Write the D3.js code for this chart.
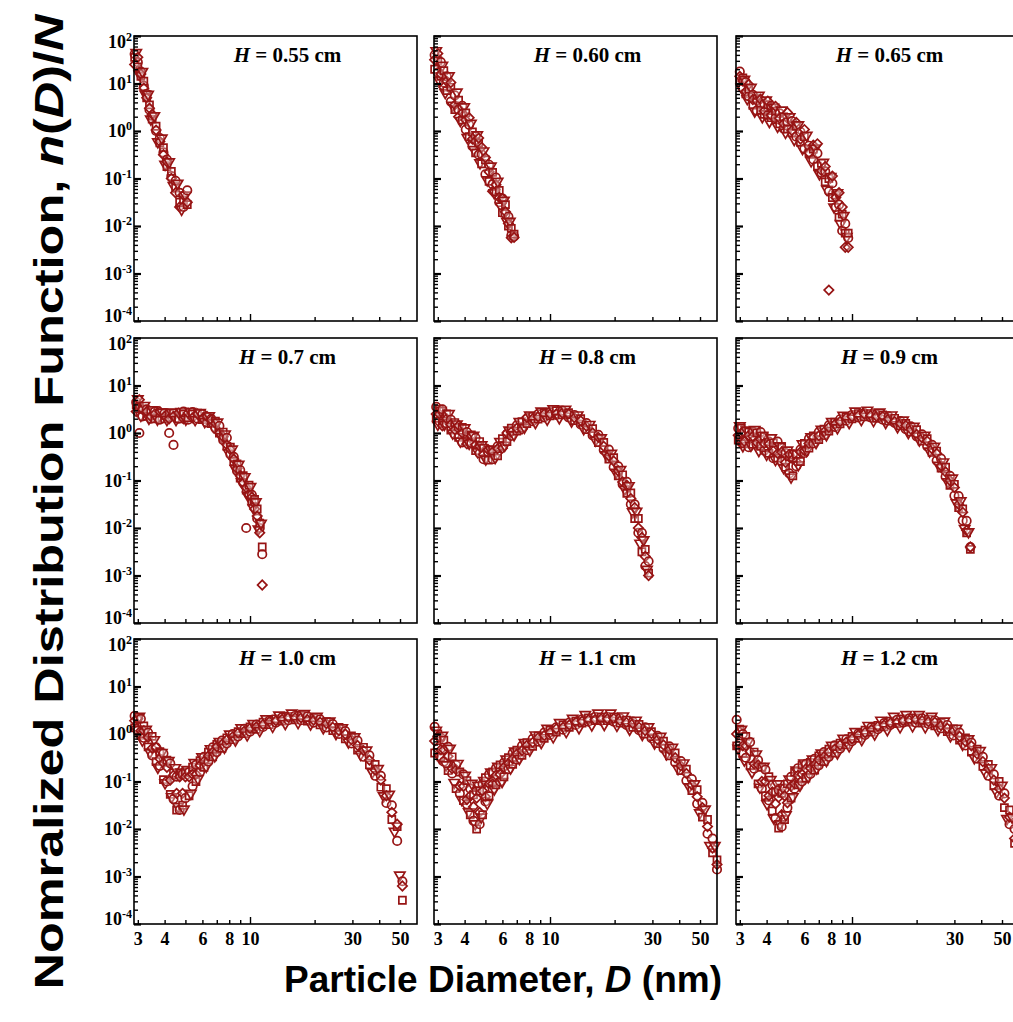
<!DOCTYPE html>
<html>
<head>
<meta charset="utf-8">
<script src="https://cdn.jsdelivr.net/npm/d3@7"></script>
<style>
  body { margin: 0; background: #fff; overflow: hidden; }
  svg { display: block; }
  .tk text { font-family: "Liberation Serif", "Times New Roman", serif; font-weight: bold; font-size: 18px; fill: #000; }
  .tk line { stroke: #000; }
</style>
</head>
<body>
<script>
// panel titles (H in cm)
const H_VALUES = ["0.55", "0.60", "0.65", "0.7", "0.8", "0.9", "1.0", "1.1", "1.2"];

// x tick values / labels (nm)
const X_TICKS = [3, 4, 5, 6, 7, 8, 9, 10, 20, 30, 40, 50];
const X_LABELS = [3, 4, 6, 8, 10, 30, 50];
const Y_EXPONENTS = [-4, -3, -2, -1, 0, 1, 2];

// each panel: diameters D (nm) and log10 n(D)/N of the runs
// runs A,B,C share D_xx; run E has its own diameters E_D_xx
const D_055 = [2.9,3.0,3.1,3.2,3.3,3.4,3.5,3.65,3.8,3.95,4.1,4.3,4.5,4.7,4.9,5.1];
const A_055 = [1.62,1.45,1.25,0.95,0.78,0.45,0.32,0.0,-0.15,-0.45,-0.6,-0.95,-1.05,-1.3,-1.6,-1.25];
const B_055 = [1.55,1.35,1.15,1.05,0.7,0.55,0.25,0.1,-0.25,-0.35,-0.75,-0.85,-1.2,-1.5,-1.45,-1.55];
const C_055 = [1.4,1.55,1.2,0.9,0.7,0.48,0.35,0.02,-0.22,-0.5,-0.65,-1.0,-1.3,-1.6,-1.35,-1.5];
const E_D_055 = [2.95,3.05,3.15,3.25,3.35,3.45,3.58,3.72,3.88,4.02,4.2,4.4,4.6,4.8,5.0];
const E_055 = [1.65,1.20,1.25,0.78,0.77,0.25,0.32,-0.23,-0.15,-0.70,-0.65,-1.15,-1.10,-1.65,-1.35];

const D_060 = [2.9,3.0,3.1,3.2,3.3,3.45,3.6,3.75,3.9,4.05,4.2,4.35,4.5,4.65,4.8,5.0,5.2,5.4,5.6,5.8,6.0,6.2,6.4,6.6,6.8];
const A_060 = [1.60,1.23,1.45,1.02,1.15,0.62,0.75,0.45,0.53,0.03,0.13,-0.32,-0.11,-0.50,-0.49,-0.91,-0.71,-1.12,-0.98,-1.50,-1.42,-1.75,-1.80,-2.20,-2.22];
const B_060 = [1.30,1.48,1.15,1.27,0.85,0.92,0.45,0.65,0.23,0.38,-0.12,-0.02,-0.46,-0.25,-0.69,-0.61,-1.06,-0.87,-1.28,-1.25,-1.72,-1.55,-2.0,-2.05,-2.17];
const C_060 = [1.50,1.63,1.20,0.92,1.05,1.02,0.55,0.30,0.38,0.23,0.28,-0.17,-0.21,-0.15,-0.34,-0.56,-0.86,-1.27,-1.13,-1.40,-1.42,-1.70,-1.95,-2.25,-2.24];
const E_D_060 = [2.95,3.05,3.15,3.25,3.38,3.52,3.68,3.82,3.98,4.12,4.28,4.42,4.58,4.72,4.9,5.1,5.3,5.5,5.7,5.9,6.1,6.3,6.5];
const E_060 = [1.69,1.06,1.38,0.81,1.16,0.54,0.82,0.22,0.51,-0.14,0.16,-0.39,-0.08,-0.67,-0.42,-1.03,-0.74,-1.30,-1.06,-1.58,-1.46,-1.90,-1.90];

const D_065 = [3.0,3.1,3.2,3.3,3.45,3.6,3.75,3.9,4.05,4.2,4.4,4.6,4.8,5.0,5.25,5.5,5.75,6.0,6.3,6.6,6.9,7.2,7.5,7.8,8.1,8.4,8.7,9.0,9.3,9.6];
const A_065 = [1.25,0.90,1.03,0.73,0.76,0.43,0.57,0.57,0.33,0.53,0.27,0.37,0.05,0.19,0.21,-0.12,-0.02,-0.37,-0.31,-0.60,-0.47,-0.88,-0.85,-1.27,-1.10,-1.60,-1.55,-2.10,-1.95,-2.25];
const B_065 = [1.05,1.12,0.78,0.88,0.54,0.68,0.44,0.35,0.55,0.28,0.42,0.15,0.30,0.04,-0.04,0.10,-0.24,-0.12,-0.46,-0.38,-0.74,-0.68,-1.07,-1.00,-1.40,-1.35,-1.82,-1.75,-2.15,-2.15];
const C_065 = [1.15,1.05,0.83,0.98,0.66,0.63,0.67,0.42,0.63,0.33,0.52,0.27,0.15,0.39,0.01,0.18,-0.17,0.03,-0.46,-0.30,-0.27,-0.83,-0.75,-3.35,-0.95,-1.40,-1.30,-1.60,-2.45,-2.45];
const E_D_065 = [3.05,3.15,3.25,3.38,3.52,3.68,3.82,3.98,4.12,4.3,4.5,4.7,4.9,5.12,5.38,5.62,5.88,6.15,6.45,6.75,7.05,7.35,7.65,7.95,8.25,8.55,8.85,9.15,9.45];
const E_065 = [0.92,1.09,0.68,0.92,0.42,0.75,0.30,0.65,0.20,0.50,0.10,0.44,-0.03,0.30,-0.18,0.13,-0.37,-0.09,-0.63,-0.36,-0.90,-0.66,-1.23,-0.96,-1.60,-1.30,-1.95,-1.78,-2.22];

const D_07 = [2.95,3.05,3.15,3.3,3.45,3.6,3.8,4.0,4.2,4.4,4.65,4.9,5.15,5.4,5.7,6.0,6.3,6.6,6.9,7.2,7.5,7.8,8.1,8.4,8.7,9.0,9.3,9.6,9.9,10.2,10.5,10.8,11.1,11.4];
const A_07 = [0.65,0.0,0.35,0.5,0.3,0.45,0.28,0.42,0.0,-0.25,0.3,0.45,0.28,0.44,0.3,0.4,0.22,0.3,0.1,0.15,-0.15,-0.1,-0.45,-0.5,-0.8,-0.78,-1.05,-2.0,-1.3,-1.3,-1.45,-1.8,-2.0,-2.55];
const B_07 = [0.6,0.55,0.5,0.35,0.45,0.3,0.42,0.3,0.4,0.42,0.3,0.4,0.32,0.4,0.42,0.28,0.35,0.2,0.25,0.0,0.02,-0.28,-0.3,-0.6,-0.65,-0.95,-0.9,-1.2,-1.1,-1.45,-1.4,-1.6,-1.9,-2.4];
const C_07 = [0.45,0.7,0.5,0.45,0.35,0.4,0.45,0.35,0.3,0.35,0.42,0.3,0.42,0.32,0.4,0.3,0.35,0.28,0.2,0.0,-0.08,-0.25,-0.35,-0.55,-0.75,-0.9,-1.05,-1.15,-1.3,-1.35,-1.6,-1.75,-2.1,-3.2];
const E_D_07 = [3.0,3.1,3.22,3.38,3.52,3.7,3.9,4.1,4.3,4.52,4.78,5.02,5.28,5.55,5.85,6.15,6.45,6.75,7.05,7.35,7.65,7.95,8.25,8.55,8.85,9.15,9.45,9.75,10.05,10.35,10.65,10.95,11.25];
const E_07 = [0.72,0.37,0.58,0.31,0.49,0.29,0.44,0.28,0.44,0.28,0.45,0.29,0.45,0.28,0.43,0.24,0.36,0.14,0.23,-0.08,-0.02,-0.41,-0.34,-0.75,-0.66,-1.03,-0.92,-1.31,-1.13,-1.57,-1.45,-2.02,-1.90];

const D_08 = [2.95,3.05,3.15,3.3,3.45,3.6,3.75,3.9,4.1,4.3,4.5,4.7,4.9,5.15,5.4,5.7,6.0,6.3,6.6,7.0,7.4,7.8,8.3,8.8,9.4,10.0,10.7,11.4,12.2,13.0,13.9,14.8,15.8,16.8,17.8,18.8,19.8,20.8,21.8,22.8,23.8,24.8,25.8,26.8,27.8,28.8];
const A_08 = [0.55,0.25,0.50,0.20,0.28,-0.03,0.11,-0.20,0.02,-0.21,-0.10,-0.43,-0.55,-0.40,-0.55,-0.28,-0.27,-0.02,-0.06,0.16,0.12,0.30,0.25,0.40,0.33,0.44,0.38,0.47,0.33,0.38,0.18,0.21,-0.05,-0.04,-0.36,-0.35,-0.72,-0.70,-1.08,-1.03,-1.50,-1.50,-2.10,-2.10,-2.80,-2.70];
const B_08 = [0.30,0.50,0.20,0.40,0.06,0.22,-0.09,0.12,-0.18,-0.04,-0.37,-0.18,-0.32,-0.57,-0.35,-0.48,-0.12,-0.18,0.10,0.04,0.24,0.20,0.35,0.29,0.43,0.36,0.47,0.38,0.43,0.26,0.30,0.07,0.09,-0.20,-0.20,-0.55,-0.52,-0.90,-0.88,-1.27,-1.26,-1.80,-1.80,-2.50,-2.45,-2.95];
const C_08 = [0.40,0.40,0.15,0.30,0.18,0.07,0.16,0.00,-0.23,-0.06,-0.25,-0.28,-0.45,-0.35,-0.40,-0.33,-0.32,0.00,0.02,0.10,0.08,0.33,0.30,0.34,0.40,0.40,0.40,0.42,0.40,0.32,0.26,0.14,0.00,-0.09,-0.28,-0.48,-0.59,-0.80,-1.03,-1.10,-1.38,-1.57,-2.00,-2.20,-2.60,-3.00];
const E_D_08 = [3.0,3.1,3.22,3.38,3.52,3.68,3.82,4.0,4.2,4.4,4.6,4.8,5.02,5.28,5.55,5.85,6.15,6.45,6.8,7.2,7.6,8.05,8.55,9.1,9.7,10.35,11.05,11.8,12.6,13.45,14.35,15.3,16.3,17.3,18.3,19.3,20.3,21.3,22.3,23.3,24.3,25.3,26.3,27.3,28.3];
const E_08 = [0.18,0.47,0.18,0.41,0.00,0.19,-0.17,0.11,-0.22,-0.05,-0.39,-0.25,-0.55,-0.35,-0.52,-0.18,-0.26,0.06,-0.04,0.24,0.12,0.38,0.22,0.46,0.29,0.51,0.32,0.50,0.25,0.38,0.09,0.18,-0.15,-0.10,-0.46,-0.43,-0.83,-0.77,-1.18,-1.11,-1.66,-1.65,-2.32,-2.25,-2.87];

const D_09 = [2.95,3.05,3.15,3.3,3.45,3.6,3.75,3.9,4.1,4.3,4.5,4.7,4.9,5.1,5.3,5.5,5.75,6.0,6.3,6.6,7.0,7.4,7.8,8.3,8.8,9.4,10.0,10.7,11.4,12.2,13.0,13.9,14.8,15.8,16.8,17.8,18.8,20.0,21.2,22.4,23.6,24.8,26.0,27.3,28.6,30.0,31.4,32.8,34.2,35.6];
const A_09 = [0.10,-0.20,0.02,-0.30,0.03,-0.25,0.02,-0.37,-0.18,-0.53,-0.18,-0.60,-0.42,-0.85,-0.45,-0.70,-0.35,-0.42,-0.12,-0.22,0.02,-0.04,0.16,0.13,0.29,0.26,0.38,0.33,0.42,0.33,0.39,0.28,0.35,0.21,0.25,0.08,0.14,-0.07,-0.03,-0.28,-0.25,-0.58,-0.54,-0.92,-0.90,-1.32,-1.33,-1.84,-1.85,-2.40];
const B_09 = [-0.15,0.10,-0.23,0.02,-0.24,0.00,-0.28,-0.07,-0.43,-0.21,-0.53,-0.30,-0.72,-0.50,-0.90,-0.45,-0.60,-0.22,-0.32,-0.06,-0.14,0.08,0.04,0.23,0.19,0.34,0.30,0.41,0.34,0.41,0.31,0.38,0.25,0.31,0.15,0.20,0.02,0.07,-0.17,-0.12,-0.41,-0.38,-0.74,-0.72,-1.10,-1.08,-1.57,-1.60,-2.10,-2.45];
const C_09 = [-0.05,0.00,-0.18,-0.05,-0.07,-0.20,-0.13,-0.22,-0.23,-0.38,-0.43,-0.40,-0.62,-0.45,-0.55,-0.60,-0.40,-0.37,-0.22,-0.09,-0.06,0.02,0.12,0.18,0.24,0.32,0.34,0.37,0.40,0.37,0.35,0.35,0.30,0.24,0.20,0.16,0.08,-0.03,-0.10,-0.17,-0.33,-0.43,-0.69,-0.82,-1.00,-1.15,-1.50,-1.67,-2.05,-2.40];
const E_D_09 = [3.0,3.1,3.22,3.38,3.52,3.68,3.82,4.0,4.2,4.4,4.6,4.8,5.0,5.2,5.4,5.62,5.88,6.15,6.45,6.8,7.2,7.6,8.05,8.55,9.1,9.7,10.35,11.05,11.8,12.6,13.45,14.35,15.3,16.3,17.3,18.3,19.4,20.6,21.8,23.0,24.2,25.4,26.65,27.95,29.3,30.7,32.1,33.5,34.9];
const E_09 = [0.15,-0.27,0.06,-0.26,0.07,-0.37,-0.05,-0.45,-0.10,-0.56,-0.27,-0.73,-0.36,-0.93,-0.43,-0.67,-0.23,-0.37,-0.08,-0.20,0.08,-0.04,0.24,0.11,0.37,0.22,0.46,0.28,0.48,0.26,0.44,0.22,0.38,0.13,0.27,0.01,0.14,-0.15,-0.05,-0.38,-0.28,-0.68,-0.61,-1.03,-0.95,-1.47,-1.43,-2.01,-2.08];

const D_10 = [2.9,3.0,3.1,3.2,3.35,3.5,3.65,3.8,3.95,4.1,4.25,4.4,4.55,4.7,4.85,5.0,5.2,5.4,5.6,5.85,6.1,6.4,6.7,7.0,7.4,7.8,8.3,8.8,9.4,10.0,10.7,11.5,12.3,13.2,14.1,15.1,16.2,17.3,18.5,19.8,21.2,22.7,24.3,26.0,27.8,29.7,31.7,33.8,36.0,38.3,40.7,43.2,45.8,48.5,51.3];
const A_10 = [0.38,0.07,0.32,-0.08,0.03,-0.45,-0.28,-0.67,-0.41,-1.00,-0.62,-1.37,-0.90,-1.60,-0.85,-1.35,-0.80,-1.10,-0.65,-0.80,-0.48,-0.58,-0.28,-0.38,-0.14,-0.20,0.00,-0.05,0.11,0.05,0.20,0.15,0.28,0.24,0.35,0.29,0.38,0.29,0.37,0.24,0.31,0.14,0.21,0.00,0.06,-0.20,-0.14,-0.48,-0.45,-0.88,-0.88,-1.45,-1.50,-2.25,-3.10];
const B_10 = [0.13,0.32,-0.03,0.17,-0.27,-0.05,-0.58,-0.37,-0.96,-0.55,-1.27,-0.82,-1.60,-0.85,-1.50,-0.80,-1.30,-0.70,-1.00,-0.56,-0.70,-0.38,-0.48,-0.22,-0.30,-0.08,-0.12,0.05,0.01,0.15,0.10,0.25,0.20,0.32,0.27,0.37,0.30,0.39,0.27,0.34,0.19,0.26,0.07,0.14,-0.10,-0.04,-0.34,-0.28,-0.65,-0.64,-1.12,-1.15,-1.80,-1.95,-3.50];
const C_10 = [0.28,0.32,0.07,0.07,-0.07,-0.30,-0.28,-0.52,-0.61,-0.70,-0.97,-0.87,-1.25,-0.90,-1.25,-0.90,-0.90,-0.85,-0.85,-0.66,-0.58,-0.46,-0.38,-0.27,-0.22,-0.12,-0.06,0.02,0.06,0.12,0.15,0.20,0.26,0.28,0.31,0.35,0.34,0.34,0.30,0.29,0.25,0.22,0.14,0.07,0.00,-0.12,-0.24,-0.35,-0.55,-0.76,-0.97,-1.30,-1.65,-1.90,-3.20];
const E_D_10 = [2.95,3.05,3.15,3.28,3.42,3.58,3.72,3.88,4.02,4.18,4.32,4.48,4.62,4.78,4.92,5.1,5.3,5.5,5.72,5.98,6.25,6.55,6.85,7.2,7.6,8.05,8.55,9.1,9.7,10.35,11.1,11.9,12.75,13.65,14.6,15.65,16.75,17.9,19.15,20.5,21.95,23.5,25.15,26.9,28.75,30.7,32.75,34.9,37.15,39.5,41.95,44.5,47.15,49.9];
const E_10 = [0.10,0.37,-0.13,0.10,-0.38,-0.12,-0.70,-0.39,-1.03,-0.56,-1.32,-0.71,-1.53,-0.80,-1.58,-0.75,-1.25,-0.60,-0.94,-0.48,-0.68,-0.31,-0.46,-0.16,-0.28,0.00,-0.13,0.13,-0.02,0.22,0.07,0.32,0.16,0.40,0.22,0.44,0.24,0.43,0.21,0.37,0.13,0.27,0.01,0.13,-0.17,-0.06,-0.43,-0.34,-0.80,-0.73,-1.30,-1.27,-2.05,-2.97];

const D_11 = [2.9,3.0,3.1,3.2,3.35,3.5,3.65,3.8,3.95,4.1,4.25,4.4,4.55,4.7,4.85,5.0,5.2,5.4,5.6,5.85,6.1,6.4,6.7,7.0,7.4,7.8,8.3,8.8,9.4,10.0,10.7,11.5,12.3,13.2,14.1,15.1,16.2,17.3,18.5,19.8,21.2,22.7,24.3,26.0,27.8,29.7,31.7,33.8,36.0,38.3,40.7,43.2,45.8,48.5,51.3,54.2,57.2,60.0];
const A_11 = [0.15,-0.30,-0.08,-0.58,-0.27,-0.83,-0.65,-1.25,-0.85,-1.48,-1.15,-1.83,-1.20,-1.90,-1.05,-1.42,-0.85,-1.15,-0.72,-1.00,-0.60,-0.74,-0.40,-0.54,-0.25,-0.34,-0.10,-0.16,0.03,-0.02,0.14,0.09,0.24,0.19,0.31,0.26,0.36,0.28,0.36,0.26,0.33,0.19,0.26,0.08,0.14,-0.09,-0.04,-0.31,-0.26,-0.60,-0.57,-0.98,-0.95,-1.47,-1.45,-2.10,-2.20,-2.85];
const B_11 = [-0.40,0.00,-0.48,-0.13,-0.77,-0.48,-1.15,-0.80,-1.40,-0.98,-1.70,-1.28,-2.00,-1.20,-1.70,-0.92,-1.30,-0.80,-1.07,-0.65,-0.90,-0.50,-0.64,-0.34,-0.45,-0.18,-0.26,-0.04,-0.09,0.08,0.04,0.19,0.14,0.27,0.23,0.34,0.28,0.36,0.28,0.36,0.23,0.29,0.14,0.20,0.00,0.05,-0.20,-0.15,-0.46,-0.40,-0.77,-0.74,-1.19,-1.17,-1.75,-1.80,-2.50,-2.65];
const C_11 = [-0.15,-0.05,-0.33,-0.33,-0.47,-0.73,-0.75,-1.10,-1.10,-1.38,-1.30,-1.53,-1.35,-1.65,-1.20,-1.32,-1.05,-1.05,-0.87,-0.85,-0.70,-0.62,-0.52,-0.42,-0.35,-0.24,-0.18,-0.08,-0.03,0.03,0.11,0.14,0.19,0.25,0.27,0.30,0.30,0.32,0.32,0.33,0.28,0.24,0.22,0.14,0.07,0.01,-0.12,-0.23,-0.33,-0.50,-0.67,-0.83,-1.07,-1.32,-1.55,-1.95,-2.40,-2.75];
const E_D_11 = [2.95,3.05,3.15,3.28,3.42,3.58,3.72,3.88,4.02,4.18,4.32,4.48,4.62,4.78,4.92,5.1,5.3,5.5,5.72,5.98,6.25,6.55,6.85,7.2,7.6,8.05,8.55,9.1,9.7,10.35,11.1,11.9,12.75,13.65,14.6,15.65,16.75,17.9,19.15,20.5,21.95,23.5,25.15,26.9,28.75,30.7,32.75,34.9,37.15,39.5,41.95,44.5,47.15,49.9,52.75,55.7,58.6];
const E_11 = [0.08,-0.49,-0.03,-0.65,-0.30,-1.02,-0.62,-1.38,-0.87,-1.64,-1.04,-1.89,-1.08,-1.75,-0.98,-1.46,-0.80,-1.16,-0.68,-1.00,-0.53,-0.72,-0.36,-0.52,-0.18,-0.34,-0.02,-0.18,0.12,-0.06,0.24,0.05,0.33,0.13,0.41,0.19,0.44,0.20,0.44,0.18,0.38,0.10,0.29,-0.01,0.15,-0.19,-0.05,-0.42,-0.28,-0.73,-0.61,-1.11,-1.05,-1.66,-1.58,-2.35,-2.35];

const D_12 = [2.9,3.0,3.1,3.2,3.35,3.5,3.65,3.8,3.95,4.1,4.25,4.4,4.55,4.7,4.85,5.0,5.2,5.4,5.6,5.85,6.1,6.4,6.7,7.0,7.4,7.8,8.3,8.8,9.4,10.0,10.7,11.5,12.3,13.2,14.1,15.1,16.2,17.3,18.5,19.8,21.2,22.7,24.3,26.0,27.8,29.7,31.7,33.8,36.0,38.3,40.7,43.2,45.8,48.5,51.3,54.2,57.2];
const A_12 = [0.30,-0.20,0.00,-0.50,-0.17,-0.73,-0.55,-1.15,-0.75,-1.40,-1.07,-1.77,-1.18,-1.95,-1.15,-1.55,-0.90,-1.15,-0.72,-1.00,-0.63,-0.84,-0.52,-0.66,-0.38,-0.48,-0.24,-0.31,-0.11,-0.15,0.01,-0.02,0.14,0.10,0.23,0.19,0.30,0.24,0.33,0.24,0.33,0.21,0.29,0.12,0.19,-0.03,0.03,-0.24,-0.18,-0.52,-0.48,-0.88,-0.85,-1.30,-1.25,-1.90,-2.00];
const B_12 = [-0.25,0.10,-0.40,-0.05,-0.67,-0.38,-1.05,-0.70,-1.30,-0.90,-1.62,-1.22,-1.98,-1.25,-1.80,-1.05,-1.35,-0.80,-1.07,-0.65,-0.93,-0.60,-0.76,-0.46,-0.58,-0.32,-0.40,-0.19,-0.23,-0.05,-0.09,0.08,0.04,0.18,0.15,0.27,0.22,0.32,0.25,0.34,0.23,0.31,0.17,0.24,0.05,0.11,-0.13,-0.08,-0.38,-0.32,-0.68,-0.64,-1.09,-1.00,-1.55,-1.60,-2.30];
const C_12 = [0.00,0.05,-0.25,-0.25,-0.37,-0.63,-0.65,-1.00,-1.00,-1.30,-1.22,-1.47,-1.33,-1.70,-1.30,-1.45,-1.10,-1.05,-0.87,-0.85,-0.73,-0.72,-0.64,-0.54,-0.48,-0.38,-0.32,-0.23,-0.17,-0.10,-0.02,0.03,0.09,0.16,0.19,0.23,0.24,0.28,0.29,0.31,0.28,0.26,0.25,0.18,0.12,0.07,-0.05,-0.16,-0.25,-0.42,-0.58,-0.73,-0.97,-1.15,-1.35,-1.75,-2.20];
const E_D_12 = [2.95,3.05,3.15,3.28,3.42,3.58,3.72,3.88,4.02,4.18,4.32,4.48,4.62,4.78,4.92,5.1,5.3,5.5,5.72,5.98,6.25,6.55,6.85,7.2,7.6,8.05,8.55,9.1,9.7,10.35,11.1,11.9,12.75,13.65,14.6,15.65,16.75,17.9,19.15,20.5,21.95,23.5,25.15,26.9,28.75,30.7,32.75,34.9,37.15,39.5,41.95,44.5,47.15,49.9,52.75,55.7];
const E_12 = [-0.30,0.10,-0.55,-0.16,-0.80,-0.42,-1.12,-0.68,-1.47,-0.96,-1.77,-1.05,-1.89,-1.13,-1.70,-0.95,-1.32,-0.76,-1.08,-0.61,-0.90,-0.53,-0.72,-0.40,-0.56,-0.24,-0.40,-0.09,-0.25,0.05,-0.12,0.18,0.00,0.29,0.09,0.37,0.15,0.41,0.17,0.41,0.15,0.37,0.09,0.27,-0.04,0.12,-0.22,-0.10,-0.50,-0.35,-0.82,-0.71,-1.22,-1.08,-1.78,-1.75];

const panels = [
  { h: H_VALUES[0], runs: [[D_055, A_055], [D_055, B_055], [D_055, C_055], [E_D_055, E_055]] },
  { h: H_VALUES[1], runs: [[D_060, A_060], [D_060, B_060], [D_060, C_060], [E_D_060, E_060]] },
  { h: H_VALUES[2], runs: [[D_065, A_065], [D_065, B_065], [D_065, C_065], [E_D_065, E_065]] },
  { h: H_VALUES[3], runs: [[D_07, A_07], [D_07, B_07], [D_07, C_07], [E_D_07, E_07]] },
  { h: H_VALUES[4], runs: [[D_08, A_08], [D_08, B_08], [D_08, C_08], [E_D_08, E_08]] },
  { h: H_VALUES[5], runs: [[D_09, A_09], [D_09, B_09], [D_09, C_09], [E_D_09, E_09]] },
  { h: H_VALUES[6], runs: [[D_10, A_10], [D_10, B_10], [D_10, C_10], [E_D_10, E_10]] },
  { h: H_VALUES[7], runs: [[D_11, A_11], [D_11, B_11], [D_11, C_11], [E_D_11, E_11]] },
  { h: H_VALUES[8], runs: [[D_12, A_12], [D_12, B_12], [D_12, C_12], [E_D_12, E_12]] }
];

// ---------------- layout ----------------
const W = 1013, H = 1022;
const colX = [134, 434, 736], rowY = [36, 338, 639];
const pw = 283, ph = 285;
const red = "#971414";

const svg = d3.select("body").append("svg").attr("width", W).attr("height", H);
svg.append("rect").attr("width", W).attr("height", H).attr("fill", "#fff");

const x = d3.scaleLog().domain([2.88, 60]).range([0, pw]);
const y = d3.scaleLog().domain([1e-4, 1e2]).range([ph, 0]);

// circles, squares, diamonds, down-triangles
const sym = [
  d3.symbol().type(d3.symbolCircle).size(56),
  d3.symbol().type(d3.symbolSquare).size(50),
  d3.symbol().type(d3.symbolSquare).size(44),
  d3.symbol().type(d3.symbolTriangle).size(46)
];
const rot = ["", "", " rotate(45)", " rotate(180)"];

const yMajor = Y_EXPONENTS.map(e => Math.pow(10, e));
const yMinor = [];
for (let e = -4; e < 2; e++) for (let m = 2; m < 10; m++) yMinor.push(m * Math.pow(10, e));

panels.forEach((p, i) => {
  const col = i % 3, row = Math.floor(i / 3);
  const g = svg.append("g").attr("transform", `translate(${colX[col]},${rowY[row]})`);

  // markers, drawn interleaved run by run
  const pts = [];
  p.runs.forEach((r, k) => r[0].forEach((dd, j) => pts.push({ d: dd, v: r[1][j], k: k, j: j })));
  pts.sort((a, b) => a.j - b.j || a.k - b.k);
  g.append("g").selectAll("path")
    .data(pts)
    .join("path")
    .attr("transform", q => `translate(${x(q.d)},${y(Math.pow(10, q.v))})` + rot[q.k])
    .attr("d", q => sym[q.k]())
    .attr("fill", "#fff")
    .attr("fill-opacity", 0.3)
    .attr("stroke", red)
    .attr("stroke-width", 1.7);

  // frame
  g.append("rect").attr("width", pw).attr("height", ph)
    .attr("fill", "none").attr("stroke", "#000").attr("stroke-width", 1.6);

  // y minor ticks
  g.append("g").attr("class", "tk")
    .call(d3.axisLeft(y).tickValues(yMinor).tickSize(-4).tickFormat(""))
    .call(a => a.select(".domain").remove())
    .selectAll("line").attr("stroke-width", 1.4);

  // y major ticks + labels
  const ya = g.append("g").attr("class", "tk")
    .call(d3.axisLeft(y).tickValues(yMajor).tickSize(-7).tickPadding(2).tickFormat(""));
  ya.select(".domain").remove();
  ya.selectAll("line").attr("stroke-width", 2.2);
  if (col == 0) {
    ya.selectAll(".tick text").each(function (v) {
      const e = Math.round(Math.log10(v));
      const t = d3.select(this);
      t.text(null).attr("dy", e == 2 ? "0.62em" : e == -4 ? "0.02em" : "0.32em");
      t.append("tspan").text("10");
      t.append("tspan").attr("dy", -7).attr("font-size", 12).text(e);
    });
  }

  // x ticks
  const xa = g.append("g").attr("class", "tk").attr("transform", `translate(0,${ph})`)
    .call(d3.axisBottom(x).tickValues(X_TICKS).tickSize(-4).tickPadding(8)
      .tickFormat(v => (row == 2 && X_LABELS.includes(v)) ? v : ""));
  xa.select(".domain").remove();
  xa.selectAll("line").attr("stroke-width", 1.4)
    .filter(v => v == 10).attr("y2", -7);

  // title
  const tt = g.append("text").attr("x", pw / 2 + 12).attr("y", 26)
    .attr("text-anchor", "middle")
    .style("font-family", '"Liberation Serif","Times New Roman",serif')
    .style("font-weight", "bold").style("font-size", "21px");
  tt.append("tspan").style("font-style", "italic").text("H");
  tt.append("tspan").text(" = " + p.h + " cm");
});

// axis titles
const yl = svg.append("text")
  .attr("transform", "translate(63,502) rotate(-90)")
  .attr("text-anchor", "middle")
  .attr("textLength", 975).attr("lengthAdjust", "spacingAndGlyphs")
  .style("font-family", '"Liberation Sans", Arial, sans-serif')
  .style("font-weight", "bold").style("font-size", "41px");
yl.append("tspan").text("Nomralized Distribution Function, ");
yl.append("tspan").style("font-style", "italic").text("n");
yl.append("tspan").text("(");
yl.append("tspan").style("font-style", "italic").text("D");
yl.append("tspan").text(")/");
yl.append("tspan").style("font-style", "italic").text("N");

const xl = svg.append("text")
  .attr("x", 503).attr("y", 992)
  .attr("text-anchor", "middle")
  .style("font-family", '"Liberation Sans", Arial, sans-serif')
  .style("font-weight", "bold").style("font-size", "37px");
xl.append("tspan").text("Particle Diameter, ");
xl.append("tspan").style("font-style", "italic").text("D");
xl.append("tspan").text(" (nm)");
</script>
</body>
</html>
